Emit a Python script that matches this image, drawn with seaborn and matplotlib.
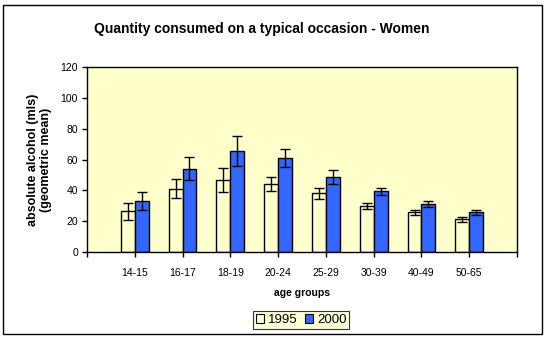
import matplotlib
matplotlib.use("Agg")
import matplotlib.pyplot as plt
import matplotlib.patches as mpatches
import seaborn as sns
import pandas as pd
import numpy as np

categories = ["14-15", "16-17", "18-19", "20-24", "25-29", "30-39", "40-49", "50-65"]
years = ["1995", "2000"]
values_1995 = [26.5, 41, 46.5, 44, 38, 30, 25.7, 21.3]
values_2000 = [33, 54, 65.5, 61, 48.5, 39.5, 31, 25.8]
err_1995 = [5.5, 6.2, 7.7, 4.5, 3.6, 2.0, 1.6, 1.6]
err_2000 = [6.0, 7.4, 10.0, 5.9, 4.6, 2.3, 2.0, 1.7]
yticks = [0, 20, 40, 60, 80, 100, 120]

sns.set_theme(style="white")
plt.rcParams["font.family"] = ["Liberation Sans", "DejaVu Sans"]
plt.rcParams["text.color"] = "black"
plt.rcParams["axes.labelcolor"] = "black"
plt.rcParams["xtick.color"] = "black"
plt.rcParams["ytick.color"] = "black"

df = pd.DataFrame({
    "age": categories * 2,
    "year": [years[0]] * len(categories) + [years[1]] * len(categories),
    "value": values_1995 + values_2000,
    "err": err_1995 + err_2000,
})

colors = {"1995": "#FFFFCC", "2000": "#3366FF"}

fig = plt.figure(figsize=(5.47, 3.40), dpi=100)
fig.patch.set_facecolor("white")
ax = fig.add_axes([87 / 547, 1 - 252 / 340, 430 / 547, 185 / 340])
ax.set_facecolor("#FFFFCC")

sns.barplot(data=df, x="age", y="value", hue="year", order=categories,
            hue_order=years, palette=colors, width=0.58, errorbar=None,
            edgecolor="black", linewidth=1.0, gap=0, saturation=1,
            ax=ax, legend=False)

# error bars at bar centres
for i, (year, errs) in enumerate(zip(years, [err_1995, err_2000])):
    container = ax.containers[i]
    xs = [p.get_x() + p.get_width() / 2 for p in container.patches]
    hs = [p.get_height() for p in container.patches]
    ax.errorbar(xs, hs, yerr=errs, fmt="none", ecolor="black",
                elinewidth=1.0, capsize=3.5, capthick=1.0, zorder=5)

ax.set_xlim(-1, len(categories))
ax.set_ylim(0, 120)
ax.set_yticks(yticks)
ax.set_yticklabels([str(v) for v in yticks], fontsize=7.5)
ax.set_xticks(range(-1, len(categories) + 1))
ax.set_xticklabels([""] + categories + [""], fontsize=7.5)
ax.tick_params(axis="both", direction="out", length=3.5, width=1.0,
               color="black", labelcolor="black", pad=3)
ax.tick_params(axis="x", pad=8)
ax.tick_params(axis="both", which="both", left=True, bottom=True)
for s in ax.spines.values():
    s.set_visible(True)
    s.set_color("black")
    s.set_linewidth(1.0)

ax.set_xlabel("age groups", fontsize=7.5, fontweight="bold", labelpad=7)
ax.set_ylabel("absolute alcohol (mls)\n(geometric mean)", fontsize=9,
              fontweight="bold", labelpad=6, linespacing=1.1)

fig.text(262 / 547, 1 - 29 / 340, "Quantity consumed on a typical occasion - Women",
         ha="center", va="center", fontsize=10, fontweight="bold")

handles = [mpatches.Patch(facecolor=colors[y], edgecolor="black", linewidth=0.8, label=y)
           for y in years]
leg = fig.legend(handles=handles, loc="center", bbox_to_anchor=(301 / 547, 1 - 320 / 340),
                 ncol=2, frameon=True, fontsize=9.5, handlelength=0.6, handleheight=0.6,
                 handletextpad=0.3, columnspacing=0.6, borderpad=0.2, fancybox=False)
leg.get_frame().set_facecolor("#FFFFCC")
leg.get_frame().set_edgecolor("black")
leg.get_frame().set_linewidth(0.8)

border = mpatches.Rectangle((3 / 547, 1 - 334 / 340), 539 / 547, 329 / 340,
                            transform=fig.transFigure, fill=False,
                            edgecolor="black", linewidth=1.0)
fig.patches.append(border)

fig.savefig("out.png", dpi=100, facecolor="white")
